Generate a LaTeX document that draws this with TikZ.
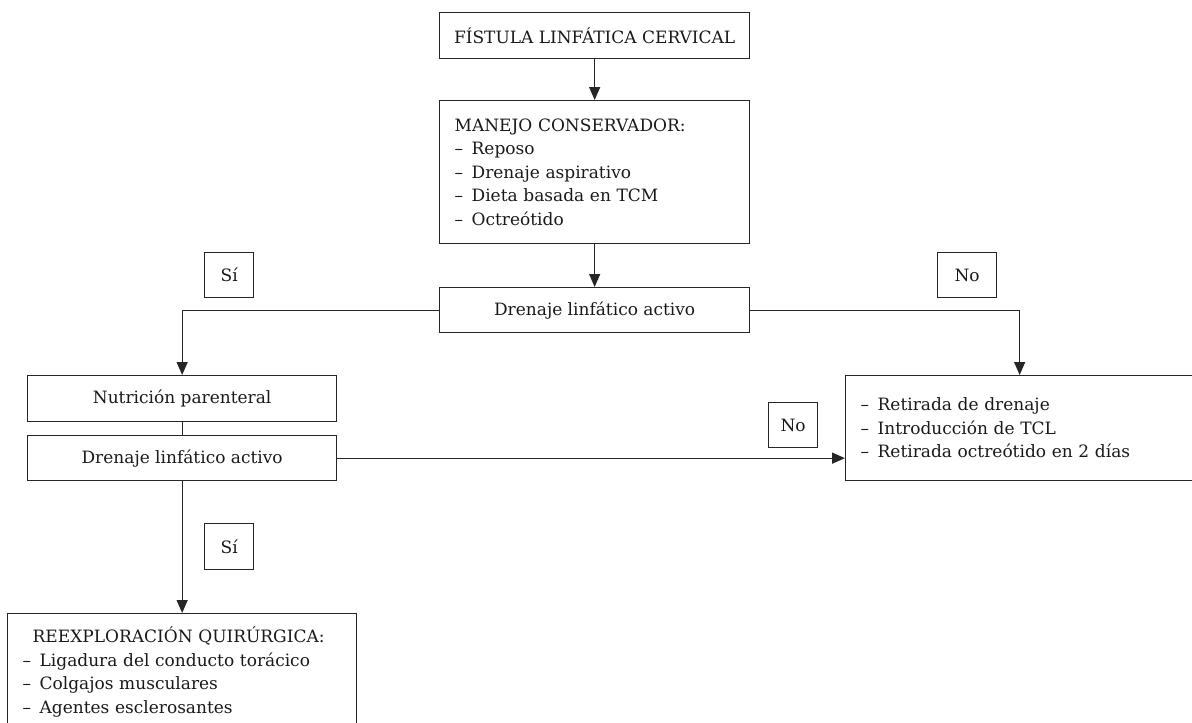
\documentclass[tikz,border=0pt]{standalone}
\usepackage{fontspec}
\setmainfont{DejaVu Serif}
\usetikzlibrary{arrows.meta}
\newcommand{\itm}{–\hspace{0.5em}}
\begin{document}
\begin{tikzpicture}[x=1pt,y=-1pt,
  box/.style={draw=black!85, line width=1.3pt, anchor=north west, inner sep=0pt,
    text=black!90, font=\fontsize{17}{23.5}\selectfont},
  lst/.style={align=left},
  conn/.style={draw=black!85, line width=1.3pt},
  arr/.style={conn, -{Triangle[length=13pt,width=11pt]}}]
\useasboundingbox (0,0) rectangle (1192,723);
\clip (0,0) rectangle (1192,723);
\node[box, minimum width=310pt, minimum height=46pt] (top) at (439,12) {FÍSTULA LINFÁTICA CERVICAL};
\node[box, lst, minimum width=310pt, minimum height=143pt, text width=280pt, inner xsep=15pt] (cons) at (439,100)
  {MANEJO CONSERVADOR:\\\itm Reposo\\\itm Drenaje aspirativo\\\itm Dieta basada en TCM\\\itm Octreótido};
\node[box, minimum width=310pt, minimum height=45pt] (dren1) at (439,287) {Drenaje linfático activo};
\node[box, minimum width=49pt, minimum height=45pt] (si1) at (204,252) {Sí};
\node[box, minimum width=59pt, minimum height=45pt] (no1) at (937,252) {No};
\node[box, minimum width=309pt, minimum height=46pt] (nutr) at (27,375) {Nutrición parenteral};
\node[box, minimum width=309pt, minimum height=45pt] (dren2) at (27,435) {Drenaje linfático activo};
\node[box, lst, minimum width=348pt, minimum height=105pt, text width=318pt, inner xsep=15pt] (ret) at (845,375)
  {\itm Retirada de drenaje\\\itm Introducción de TCL\\\itm Retirada octreótido en 2 días};
\node[box, minimum width=49pt, minimum height=45pt] (no2) at (768,402) {No};
\node[box, minimum width=49pt, minimum height=46pt] (si2) at (204,523) {Sí};
\node[box, lst, minimum width=349pt, minimum height=117pt, text width=319pt, inner xsep=15pt] (reex) at (7,613)
  {\hspace{10pt}REEXPLORACIÓN QUIRÚRGICA:\\\itm Ligadura del conducto torácico\\\itm Colgajos musculares\\\itm Agentes esclerosantes};
\draw[arr] (top) -- (cons);
\draw[arr] (cons) -- (dren1);
\draw[arr] (dren1.west) -| (nutr.north);
\draw[arr] (dren1.east) -| (ret.north);
\draw[conn] (nutr) -- (dren2);
\draw[arr] (dren2.east) -- (dren2.east -| ret.west);
\draw[arr] (dren2) -- (reex);
\end{tikzpicture}
\end{document}
